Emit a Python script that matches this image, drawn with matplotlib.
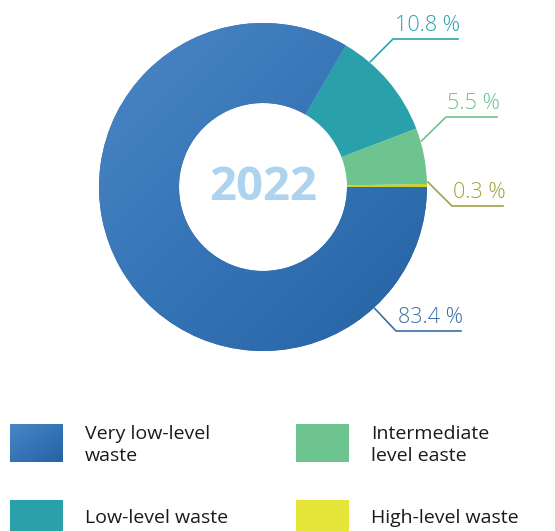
import numpy as np
import matplotlib
matplotlib.use("Agg")
import matplotlib.pyplot as plt
from matplotlib.colors import LinearSegmentedColormap
from matplotlib.patches import Rectangle

# Waste categories and their share (%)
categories = ["Very low-level\nwaste", "Low-level waste",
              "Intermediate\nlevel easte", "High-level waste"]
shares = [83.4, 10.8, 5.5, 0.3]
year = "2022"

colors = ["#3470b2", "#2aa0ab", "#6ec48e", "#cfcf2a"]
label_colors = ["#3a6fa8", "#2aa3ad", "#6cc48f", "#a2a23c"]
legend_colors = ["#3470b2", "#2aa0ab", "#6ec48e", "#e5e53a"]

W, H = 555, 531
plt.rcParams['font.family'] = ['Open Sans', 'DejaVu Sans']

fig = plt.figure(figsize=(W / 100, H / 100), dpi=100)
ax = fig.add_axes([0, 0, 1, 1])
ax.set_xlim(0, W)
ax.set_ylim(0, H)
ax.set_aspect("equal")
ax.axis("off")

cx, cy = 263, H - 187
r_out, r_in = 164, 84

# pie drawn counterclockwise from east, smallest slice first
order = [3, 2, 1, 0]
wedges, _ = ax.pie([shares[i] for i in order], colors=[colors[i] for i in order],
                   startangle=0, counterclock=True, center=(cx, cy), radius=r_out,
                   wedgeprops=dict(width=r_out - r_in, linewidth=0))
ax.set_xlim(0, W)
ax.set_ylim(0, H)

# diagonal gradient on the big blue slice (light top-left, dark bottom-right)
blue_cmap = LinearSegmentedColormap.from_list("blue", ["#4c87c6", "#3574b6", "#2563a3"])
gx, gy = np.meshgrid(np.linspace(0, 1, 200), np.linspace(0, 1, 200))
grad = (gx + gy) / 2
img = ax.imshow(grad, cmap=blue_cmap, extent=(cx - r_out, cx + r_out, cy - r_out, cy + r_out),
                origin="upper", zorder=2, interpolation="bilinear")
img.set_clip_path(wedges[3])
wedges[3].set_zorder(1)

ax.text(cx, cy, year, ha="center", va="center", fontsize=34, fontweight="bold",
        color="#aed3ee", zorder=5)

# value labels with elbow leader lines
label_text = ["83.4 %", "10.8 %", "5.5 %", "0.3 %"]
anchor_deg = [-47.4, 49.4, 16.2, 1.7]
elbow = [(396, 331), (393, 39), (446, 117), (452, 206)]
line_end = [461, 458, 497, 503]
for i in range(4):
    a = np.deg2rad(anchor_deg[i])
    x0, y0 = cx + (r_out + 1) * np.cos(a), cy + (r_out + 1) * np.sin(a)
    ex, ey = elbow[i][0], H - elbow[i][1]
    ax.plot([x0, ex, line_end[i]], [y0, ey, ey], color=label_colors[i], lw=1.2,
            solid_joinstyle="miter", zorder=4)
    ax.text((ex + line_end[i]) / 2 + 2, ey + 3, label_text[i], ha="center", va="bottom",
            fontsize=15.5, color=label_colors[i], fontweight="light")

# legend
box_pos = [(10, 424), (10, 500), (296, 424), (296, 500)]
text_pos = [(85, 445), (85, 518), (371, 445), (371, 518)]
for i in range(4):
    bx, by = box_pos[i]
    if i == 0:
        lg = ax.imshow(grad, cmap=blue_cmap, extent=(bx, bx + 53, H - by - 38, H - by),
                       origin="upper", zorder=2, interpolation="bilinear")
        lg.set_clip_path(Rectangle((bx, H - by - 38), 53, 38, transform=ax.transData))
    else:
        ax.add_patch(Rectangle((bx, H - by - 38), 53, 38, color=legend_colors[i], lw=0))
    tx, ty = text_pos[i]
    ax.text(tx, H - ty, categories[i], ha="left", va="center", fontsize=14,
            color="#1a1a1a", linespacing=1.25)

ax.set_xlim(0, W)
ax.set_ylim(0, H)
fig.savefig("out.png", dpi=100)
